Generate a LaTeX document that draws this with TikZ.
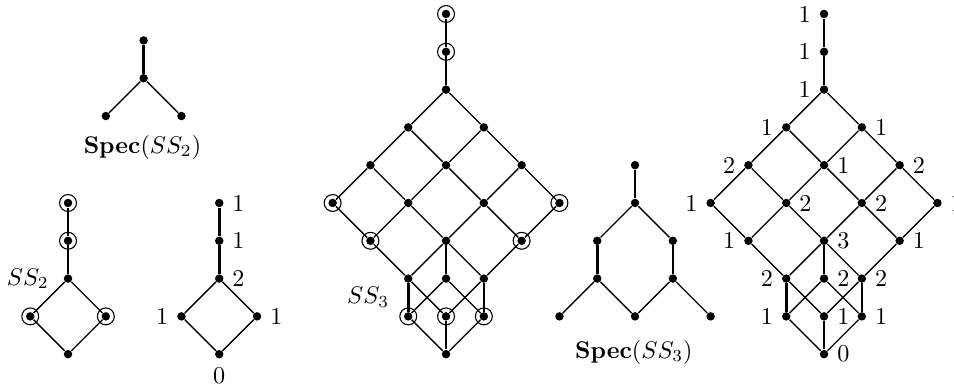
\documentclass[tikz,border=0pt]{standalone}
\usepackage{amsmath}
\usepackage{tikz}

\begin{document}
\begin{tikzpicture}[x=0.55cm, y=0.55cm,
    dot/.style={circle, fill, inner sep=0pt, minimum size=3.5pt},
    ring/.style={circle, draw, line width=0.45pt, inner sep=0pt, minimum size=7pt},
    ringed/.style={dot, label={[ring]center:}},
    rel/.style={line width=0.55pt},
    relthick/.style={line width=1.1pt}]
    \useasboundingbox (0,-0.894) rectangle (25.238,9.370);

    %Spec(SS_2)
    \node[dot] (P2_Top) at (3.8,8.3) {};
    \node[dot] (P2_Mid) at (3.8,7.3) {};
    \node[dot] (P2_L) at (2.8,6.3) {};
    \node[dot] (P2_R) at (4.8,6.3) {};
    \node (P2_Name) at (3.77,5.48) {$\mathbf{Spec}(SS_2)$};

    \draw[relthick] (P2_Top) -- (P2_Mid);
    \draw[rel] (P2_Mid) -- (P2_L);
    \draw[rel] (P2_Mid) -- (P2_R);

    %SS_2 with marked points
    \node[ringed] (S2_0) at (1.8,4) {};
    \node[ringed] (S2_1) at (1.8,3) {};
    \node[dot, label={[label distance=2.5pt]left:$SS_2$}] (S2_2) at (1.8,2) {};
    \node[ringed] (S2_3L) at (0.8,1) {};
    \node[ringed] (S2_3R) at (2.8,1) {};
    \node[dot] (S2_4) at (1.8,0) {};

    \draw[relthick] (S2_0) -- (S2_1);
    \draw[relthick] (S2_1) -- (S2_2);
    \draw[rel] (S2_2) -- (S2_3L);
    \draw[rel] (S2_2) -- (S2_3R);
    \draw[rel] (S2_3L) -- (S2_4);
    \draw[rel] (S2_3R) -- (S2_4);

    %SS_2 with numbers
    \node[dot, label=right:1] (N2_0) at (5.8,4) {};
    \node[dot, label=right:1] (N2_1) at (5.8,3) {};
    \node[dot, label=right:2] (N2_2) at (5.8,2) {};
    \node[dot, label=left:1] (N2_3L) at (4.8,1) {};
    \node[dot, label=right:1] (N2_3R) at (6.8,1) {};
    \node[dot, label=below:0] (N2_4) at (5.8,0) {};

    \draw[relthick] (N2_0) -- (N2_1);
    \draw[relthick] (N2_1) -- (N2_2);
    \draw[rel] (N2_2) -- (N2_3L);
    \draw[rel] (N2_2) -- (N2_3R);
    \draw[rel] (N2_3L) -- (N2_4);
    \draw[rel] (N2_3R) -- (N2_4);

    %SS_3 with marked points
    \node[ringed] (S3_0) at (11.8,9) {};
    \node[ringed] (S3_1) at (11.8,8) {};
    \node[dot] (S3_2) at (11.8,7) {};
    \node[dot] (S3_3L) at (10.8,6) {};
    \node[dot] (S3_3R) at (12.8,6) {};
    \node[dot] (S3_4L) at (9.8,5) {};
    \node[dot] (S3_4M) at (11.8,5) {};
    \node[dot] (S3_4R) at (13.8,5) {};
    \node[ringed] (S3_5LL) at (8.8,4) {};
    \node[dot] (S3_5L) at (10.8,4) {};
    \node[dot] (S3_5R) at (12.8,4) {};
    \node[ringed] (S3_5RR) at (14.8,4) {};
    \node[ringed] (S3_6L) at (9.8,3) {};
    \node[dot] (S3_6M) at (11.8,3) {};
    \node[ringed] (S3_6R) at (13.8,3) {};
    \node[dot] (S3_7L) at (10.8,2) {};
    \node[dot] (S3_7M) at (11.8,2) {};
    \node[dot] (S3_7R) at (12.8,2) {};
    \node[ringed] (S3_8L) at (10.8,1) {};
    \node[ringed] (S3_8M) at (11.8,1) {};
    \node[ringed] (S3_8R) at (12.8,1) {};
    \node[dot] (S3_9) at (11.8,0) {};
    \node (S3_Name) at (9.74,1.51) {$SS_3$};

    \draw[relthick] (S3_0) -- (S3_1);
    \draw[relthick] (S3_1) -- (S3_2);
    \draw[rel] (S3_2) -- (S3_3L);
    \draw[rel] (S3_2) -- (S3_3R);
    \draw[rel] (S3_3L) -- (S3_4L);
    \draw[rel] (S3_3L) -- (S3_4M);
    \draw[rel] (S3_3R) -- (S3_4M);
    \draw[rel] (S3_3R) -- (S3_4R);
    \draw[rel] (S3_4L) -- (S3_5LL);
    \draw[rel] (S3_4L) -- (S3_5L);
    \draw[rel] (S3_4M) -- (S3_5L);
    \draw[rel] (S3_4M) -- (S3_5R);
    \draw[rel] (S3_4R) -- (S3_5R);
    \draw[rel] (S3_4R) -- (S3_5RR);
    \draw[rel] (S3_5LL) -- (S3_6L);
    \draw[rel] (S3_5L) -- (S3_6L);
    \draw[rel] (S3_5L) -- (S3_6M);
    \draw[rel] (S3_5R) -- (S3_6M);
    \draw[rel] (S3_5R) -- (S3_6R);
    \draw[rel] (S3_5RR) -- (S3_6R);
    \draw[rel] (S3_6L) -- (S3_7L);
    \draw[rel] (S3_6M) -- (S3_7L);
    \draw[relthick] (S3_6M) -- (S3_7M);
    \draw[rel] (S3_6M) -- (S3_7R);
    \draw[rel] (S3_6R) -- (S3_7R);
    \draw[relthick] (S3_7L) -- (S3_8L);
    \draw[rel] (S3_7L) -- (S3_8M);
    \draw[rel] (S3_7M) -- (S3_8L);
    \draw[rel] (S3_7M) -- (S3_8R);
    \draw[rel] (S3_7R) -- (S3_8M);
    \draw[relthick] (S3_7R) -- (S3_8R);
    \draw[rel] (S3_8L) -- (S3_9);
    \draw[relthick] (S3_8M) -- (S3_9);
    \draw[rel] (S3_8R) -- (S3_9);

    %Spec(SS_3)
    \node[dot] (P3_Top) at (16.8,5) {};
    \node[dot] (P3_Mid) at (16.8,4) {};
    \node[dot] (P3_2L) at (15.8,3) {};
    \node[dot] (P3_2R) at (17.8,3) {};
    \node[dot] (P3_3L) at (15.8,2) {};
    \node[dot] (P3_3R) at (17.8,2) {};
    \node[dot] (P3_4L) at (14.8,1) {};
    \node[dot] (P3_4M) at (16.8,1) {};
    \node[dot] (P3_4R) at (18.8,1) {};
    \node (P3_Name) at (16.77,0.05) {$\mathbf{Spec}(SS_3)$};

    \draw[relthick] (P3_Top) -- (P3_Mid);
    \draw[rel] (P3_Mid) -- (P3_2L);
    \draw[rel] (P3_Mid) -- (P3_2R);
    \draw[relthick] (P3_2L) -- (P3_3L);
    \draw[relthick] (P3_2R) -- (P3_3R);
    \draw[rel] (P3_3L) -- (P3_4L);
    \draw[rel] (P3_3L) -- (P3_4M);
    \draw[rel] (P3_3R) -- (P3_4M);
    \draw[rel] (P3_3R) -- (P3_4R);

    %SS_3 with numbers
    \node[dot, label=left:1] (N3_0) at (21.8,9) {};
    \node[dot, label=left:1] (N3_1) at (21.8,8) {};
    \node[dot, label=left:1] (N3_2) at (21.8,7) {};
    \node[dot, label=left:1] (N3_3L) at (20.8,6) {};
    \node[dot, label=right:1] (N3_3R) at (22.8,6) {};
    \node[dot, label=left:2] (N3_4L) at (19.8,5) {};
    \node[dot, label=right:1] (N3_4M) at (21.8,5) {};
    \node[dot, label=right:2] (N3_4R) at (23.8,5) {};
    \node[dot, label=left:1] (N3_5LL) at (18.8,4) {};
    \node[dot, label=right:2] (N3_5L) at (20.8,4) {};
    \node[dot, label=right:2] (N3_5R) at (22.8,4) {};
    \node[dot, label=right:1] (N3_5RR) at (24.8,4) {};
    \node[dot, label=left:1] (N3_6L) at (19.8,3) {};
    \node[dot, label=right:3] (N3_6M) at (21.8,3) {};
    \node[dot, label=right:1] (N3_6R) at (23.8,3) {};
    \node[dot, label=left:2] (N3_7L) at (20.8,2) {};
    \node[dot, label=right:2] (N3_7M) at (21.8,2) {};
    \node[dot, label=right:2] (N3_7R) at (22.8,2) {};
    \node[dot, label=left:1] (N3_8L) at (20.8,1) {};
    \node[dot, label=right:1] (N3_8M) at (21.8,1) {};
    \node[dot, label=right:1] (N3_8R) at (22.8,1) {};
    \node[dot, label=right:0] (N3_9) at (21.8,0) {};

    \draw[relthick] (N3_0) -- (N3_1);
    \draw[relthick] (N3_1) -- (N3_2);
    \draw[rel] (N3_2) -- (N3_3L);
    \draw[rel] (N3_2) -- (N3_3R);
    \draw[rel] (N3_3L) -- (N3_4L);
    \draw[rel] (N3_3L) -- (N3_4M);
    \draw[rel] (N3_3R) -- (N3_4M);
    \draw[rel] (N3_3R) -- (N3_4R);
    \draw[rel] (N3_4L) -- (N3_5LL);
    \draw[rel] (N3_4L) -- (N3_5L);
    \draw[rel] (N3_4M) -- (N3_5L);
    \draw[rel] (N3_4M) -- (N3_5R);
    \draw[rel] (N3_4R) -- (N3_5R);
    \draw[rel] (N3_4R) -- (N3_5RR);
    \draw[rel] (N3_5LL) -- (N3_6L);
    \draw[rel] (N3_5L) -- (N3_6L);
    \draw[rel] (N3_5L) -- (N3_6M);
    \draw[rel] (N3_5R) -- (N3_6M);
    \draw[rel] (N3_5R) -- (N3_6R);
    \draw[rel] (N3_5RR) -- (N3_6R);
    \draw[rel] (N3_6L) -- (N3_7L);
    \draw[rel] (N3_6M) -- (N3_7L);
    \draw[relthick] (N3_6M) -- (N3_7M);
    \draw[rel] (N3_6M) -- (N3_7R);
    \draw[rel] (N3_6R) -- (N3_7R);
    \draw[relthick] (N3_7L) -- (N3_8L);
    \draw[rel] (N3_7L) -- (N3_8M);
    \draw[rel] (N3_7M) -- (N3_8L);
    \draw[rel] (N3_7M) -- (N3_8R);
    \draw[rel] (N3_7R) -- (N3_8M);
    \draw[relthick] (N3_7R) -- (N3_8R);
    \draw[rel] (N3_8L) -- (N3_9);
    \draw[relthick] (N3_8M) -- (N3_9);
    \draw[rel] (N3_8R) -- (N3_9);
\end{tikzpicture}
\end{document}
